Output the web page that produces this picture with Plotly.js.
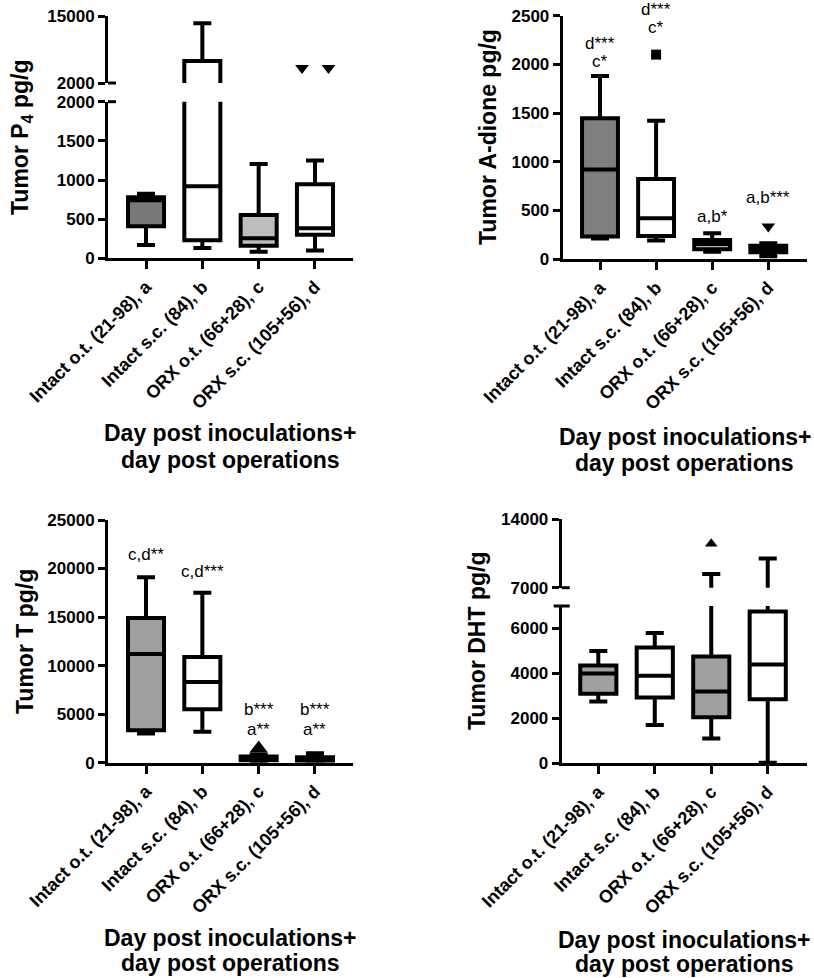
<!DOCTYPE html>
<html><head><meta charset="utf-8">
<script src="https://cdn.plot.ly/plotly-3.0.1.min.js"></script>
<style>html,body{margin:0;padding:0;background:#fff}</style>
</head><body><div id="chart" style="width:814px;height:978px"></div>
<script>
// ---------- data ----------
const categories = ["Intact o.t. (21-98), a", "Intact s.c. (84), b", "ORX o.t. (66+28), c", "ORX s.c. (105+56), d"];
const groupPos = [0, 1, 2, 3];

// Tumor P4 (pg/g)
const p4Low  = [170, 130, 84, 100];
const p4Q1   = [410, 230, 160, 300];
const p4Med  = [740, 920, 255, 385];
const p4Q3   = [780, 6270, 553, 945];
const p4High = [825, 13600, 1205, 1250];
const p4OutGroup = [3, 3];
const p4OutJitter = [-0.23, 0.24];
const p4OutVal = [4900, 4900];

// Tumor A-dione (pg/g)
const adLow  = [210, 190, 75, 28];
const adQ1   = [230, 236, 100, 69];
const adMed  = [920, 418, 154, 110];
const adQ3   = [1445, 822, 195, 137];
const adHigh = [1880, 1420, 264, 161];
const adOutGroup = [1, 3];
const adOutVal = [2100, 335];

// Tumor T (pg/g)
const tLow  = [3000, 3200, 100, 50];
const tQ1   = [3350, 5500, 250, 210];
const tMed  = [11200, 8300, 450, 400];
const tQ3   = [14900, 10900, 650, 560];
const tHigh = [19100, 17500, 850, 970];
const tOutGroup = [2];
const tOutVal = [1450];

// Tumor DHT (pg/g)
const dhtLow  = [2750, 1700, 1100, 30];
const dhtQ1   = [3100, 2930, 2050, 2850];
const dhtMed  = [4000, 3900, 3200, 4400];
const dhtQ3   = [4350, 5150, 4750, 6750];
const dhtHigh = [5000, 5800, 8400, 10000];
const dhtOutGroup = [2];
const dhtOutVal = [11500];

// significance labels
const adSig = [["d***", "c*"], ["d***", "c*"], ["a,b*"], ["a,b***"]];
const tSig = [["c,d**"], ["c,d***"], ["b***", "a**"], ["b***", "a**"]];

// ---------- styling ----------
const W = 814, H = 978;
const FONT = "Arial, 'Liberation Sans', sans-serif";
const fillP4 = ["#787878", "#ffffff", "#bdbdbd", "#ffffff"];
const fillAD = ["#7f7f7f", "#ffffff", "#b5b5b5", "#ffffff"];
const fillT  = ["#a0a0a0", "#ffffff", "#b0b0b0", "#ffffff"];
const fillDHT = ["#a0a0a0", "#ffffff", "#a0a0a0", "#ffffff"];

const px = v => v / W;
const py = v => 1 - v / H;

function boxes(xa, ya, low, q1, med, q3, high, fills) {
  return groupPos.map(i => ({
    type: 'box', xaxis: xa, yaxis: ya,
    x: [groupPos[i]], q1: [q1[i]], median: [med[i]], q3: [q3[i]],
    lowerfence: [low[i]], upperfence: [high[i]],
    fillcolor: fills[i], line: {color: '#000', width: 4},
    whiskerwidth: 0.5, width: 0.64, boxpoints: false,
    hoverinfo: 'skip', showlegend: false
  }));
}
function outliers(xa, ya, xs, ys, symbol, size) {
  return {type: 'scatter', mode: 'markers', xaxis: xa, yaxis: ya, x: xs, y: ys,
    marker: {symbol: symbol, size: size, color: '#000', line: {width: 0}},
    hoverinfo: 'skip', showlegend: false, cliponaxis: false};
}

const traces = [].concat(
  boxes('x', 'y', p4Low, p4Q1, p4Med, p4Q3, p4High, fillP4),
  boxes('x', 'y2', p4Low, p4Q1, p4Med, p4Q3, p4High, fillP4),
  [outliers('x', 'y2', p4OutGroup.map((g, k) => g + p4OutJitter[k]), p4OutVal, 'triangle-down', 12)],
  boxes('x2', 'y3', adLow, adQ1, adMed, adQ3, adHigh, fillAD),
  [outliers('x2', 'y3', [adOutGroup[0]], [adOutVal[0]], 'square', 10),
   outliers('x2', 'y3', [adOutGroup[1]], [adOutVal[1]], 'triangle-down', 12)],
  boxes('x3', 'y4', tLow, tQ1, tMed, tQ3, tHigh, fillT),
  [outliers('x3', 'y4', tOutGroup, tOutVal, 'triangle-up', 16)],
  boxes('x4', 'y5', dhtLow, dhtQ1, dhtMed, dhtQ3, dhtHigh, fillDHT),
  boxes('x4', 'y6', dhtLow, dhtQ1, dhtMed, dhtQ3, dhtHigh, fillDHT),
  [outliers('x4', 'y6', dhtOutGroup, dhtOutVal, 'triangle-up', 11)]
);

const tickFont = {family: FONT, size: 17, color: '#000', weight: 'bold'};
const xTickFont = {family: FONT, size: 18, color: '#000', weight: 'bold'};
function xAxis(dom, range, anchor) {
  return {domain: [px(dom[0]), px(dom[1])], range: range, anchor: anchor,
    tickmode: 'array', tickvals: groupPos, ticktext: categories, tickangle: -45,
    tickfont: xTickFont, ticks: 'outside', ticklen: 8, tickwidth: 3, tickcolor: '#000',
    showline: true, linewidth: 3, linecolor: '#000', showgrid: false, zeroline: false, fixedrange: true};
}
function yAxis(dom, range, tickvals, anchor) {
  return {domain: [py(dom[0]), py(dom[1])], range: range, anchor: anchor,
    tickmode: 'array', tickvals: tickvals, ticktext: tickvals.map(String),
    tickfont: tickFont, ticks: 'outside', ticklen: 7, tickwidth: 3, tickcolor: '#000',
    showline: true, linewidth: 3, linecolor: '#000', showgrid: false, zeroline: false, fixedrange: true};
}

const layout = {
  width: W, height: H, margin: {l: 0, r: 0, t: 0, b: 0},
  paper_bgcolor: '#fff', plot_bgcolor: '#fff', showlegend: false,
  font: {family: FONT, color: '#000'},
  xaxis:  xAxis([108, 353], [-0.675, 3.675], 'y'),
  yaxis:  yAxis([258.3, 101.7], [0, 2000], [0, 500, 1000, 1500, 2000], 'x'),
  yaxis2: yAxis([83, 16], [2000, 15000], [2000, 15000], 'x'),
  xaxis2: xAxis([562.7, 806.7], [-0.665, 3.685], 'y3'),
  yaxis3: yAxis([259, 15.7], [0, 2500], [0, 500, 1000, 1500, 2000, 2500], 'x2'),
  xaxis3: xAxis([108, 353], [-0.675, 3.675], 'y4'),
  yaxis4: yAxis([762.7, 520], [0, 25000], [0, 5000, 10000, 15000, 20000, 25000], 'x3'),
  xaxis4: xAxis([561.7, 806.7], [-0.648, 3.69], 'y5'),
  yaxis5: yAxis([763.3, 606], [0, 7000], [0, 2000, 4000, 6000], 'x4'),
  yaxis6: yAxis([587.7, 519.3], [7000, 14000], [7000, 14000], 'x4'),
  annotations: [],
  shapes: []
};

// axis break marks
function mark(xPix, yPix, left, right) {
  layout.shapes.push({type: 'line', xref: 'paper', yref: 'paper',
    x0: px(xPix - left), x1: px(xPix + right), y0: py(yPix), y1: py(yPix),
    line: {color: '#000', width: 3}});
}
mark(108, 83, 0, 8);
mark(108, 101.7, 0, 8);
mark(561.7, 587.7, 0, 8);
mark(561.7, 606, 8, 8);

// titles
const titleFont = {family: FONT, size: 23, color: '#000', weight: 'bold'};
function ann(text, x, y, opts) {
  layout.annotations.push(Object.assign({text: text, xref: 'paper', yref: 'paper',
    x: px(x), y: py(y), xanchor: 'center', yanchor: 'middle', showarrow: false,
    font: titleFont}, opts || {}));
}
const xTitle1 = "Day post inoculations+", xTitle2 = "day post operations";
[[230, 433, 460], [684.7, 437, 463], [230, 938, 963], [684, 940, 964]].forEach(p => {
  ann(xTitle1, p[0], p[1]);
  ann(xTitle2, p[0], p[2]);
});
ann("Tumor P<sub>4</sub> pg/g", 22, 138, {textangle: -90});
ann("Tumor A-dione pg/g", 488, 137, {textangle: -90});
ann("Tumor T pg/g", 25, 642, {textangle: -90});
ann("Tumor DHT pg/g", 477, 641, {textangle: -90});

// significance labels (vertical placement in pixels)
const sigFont = {family: FONT, size: 17, color: '#000'};
const adSigPix = [[43, 61], [10, 27.5], [216], [197.5]];
const tSigPix = [[554], [571.7], [709, 729], [709, 729]];
function sig(labels, ys, xref) {
  labels.forEach((lines, g) => lines.forEach((t, k) => {
    layout.annotations.push({text: t, xref: xref, yref: 'paper', x: groupPos[g], y: py(ys[g][k]),
      xanchor: 'center', yanchor: 'middle', showarrow: false, font: sigFont});
  }));
}
sig(adSig, adSigPix, 'x2');
sig(tSig, tSigPix, 'x3');

Plotly.newPlot('chart', traces, layout, {displayModeBar: false, staticPlot: true});
</script></body></html>
